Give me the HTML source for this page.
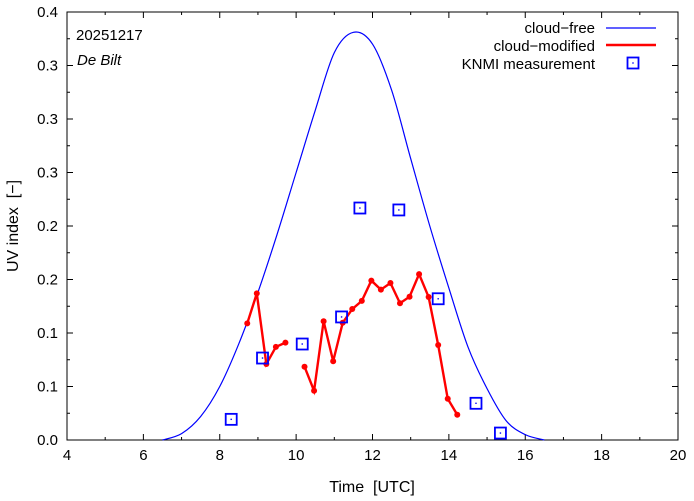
<!DOCTYPE html>
<html><head><meta charset="utf-8"><style>
body{margin:0;background:#fff}
svg{display:block;font-family:"Liberation Sans",sans-serif}
text{white-space:pre}
</style></head><body>
<svg id="chart" width="694" height="501" viewBox="0 0 694 501" xmlns="http://www.w3.org/2000/svg"></svg>
<script>
const xTicks=[4,6,8,10,12,14,16,18,20];
const yTicks=[0,0.05,0.1,0.15,0.2,0.25,0.3,0.35,0.4];
const yTickLabels=["0.0","0.1","0.1","0.2","0.2","0.3","0.3","0.3","0.4"];
const clearTimes=[6.5,7,7.5,8,8.5,9,9.5,10,10.5,11,11.5,12,12.5,13,13.5,14,14.5,15,15.5,16,16.5];
const clearVals=[0,0.006,0.022,0.05,0.09,0.138,0.192,0.25,0.308,0.362,0.381,0.37,0.327,0.263,0.2,0.142,0.087,0.048,0.018,0.005,0];
const cloudTimes1=[8.72,8.97,9.22,9.47,9.72];
const cloudVals1=[0.109,0.137,0.071,0.087,0.091];
const cloudTimes2=[10.22,10.47,10.72,10.97,11.22,11.47,11.72,11.97,12.22,12.47,12.72,12.97,13.22,13.47,13.72,13.97,14.22];
const cloudVals2=[0.0685,0.046,0.111,0.0736,0.1096,0.1224,0.13,0.149,0.1405,0.1467,0.1278,0.1339,0.155,0.1336,0.0888,0.0386,0.0236];
const measTimes=[8.3,9.12,10.16,11.19,11.67,12.69,13.72,14.71,15.35];
const measVals=[0.0193,0.0766,0.0897,0.115,0.2168,0.215,0.132,0.0343,0.0065];

const L=67,R=678,T=12,B=440;
const X=v=>L+(v-4)/16*(R-L);
const Y=v=>B-v/0.4*(B-T);
const svg=document.getElementById('chart');
const NS='http://www.w3.org/2000/svg';
function mk(tag,attrs,parent){const e=document.createElementNS(NS,tag);for(const k in attrs)e.setAttribute(k,attrs[k]);(parent||svg).appendChild(e);return e;}

xTicks.forEach((t,i)=>{
  const g=mk('line',{x1:X(t),x2:X(t),y1:B,y2:B-6,stroke:'#000'});
  
  
  mk('line',{x1:X(t),x2:X(t),y1:T,y2:T+6,stroke:'#000'});
  if(i<xTicks.length-1){
    mk('line',{x1:X(t+1),x2:X(t+1),y1:B,y2:B-3,stroke:'#000'});
    mk('line',{x1:X(t+1),x2:X(t+1),y1:T,y2:T+3,stroke:'#000'});
  }
  const tx=mk('text',{x:X(t),y:B+20,'text-anchor':'middle','font-size':15});
  tx.textContent=t;
  
  
});
yTicks.forEach((t,i)=>{
  mk('line',{x1:L,x2:L+6,y1:Y(t),y2:Y(t),stroke:'#000'});
  mk('line',{x1:R,x2:R-6,y1:Y(t),y2:Y(t),stroke:'#000'});
  if(i<yTicks.length-1){
    mk('line',{x1:L,x2:L+3,y1:Y(t+0.025),y2:Y(t+0.025),stroke:'#000'});
    mk('line',{x1:R,x2:R-3,y1:Y(t+0.025),y2:Y(t+0.025),stroke:'#000'});
  }
  const tx=mk('text',{x:L-9,y:Y(t)+5,'text-anchor':'end','font-size':15});
  tx.textContent=yTickLabels[i];
  
  
});
const frame=mk('rect',{x:L,y:T,width:R-L,height:B-T,fill:'none',stroke:'#000','stroke-width':1});



let pts=clearTimes.map((t,i)=>[X(t),Y(clearVals[i])]);
let d='M'+pts[0][0]+','+pts[0][1];
for(let i=0;i<pts.length-1;i++){
  const p0=pts[Math.max(0,i-1)],p1=pts[i],p2=pts[i+1],p3=pts[Math.min(pts.length-1,i+2)];
  d+=` C${p1[0]+(p2[0]-p0[0])/6},${p1[1]+(p2[1]-p0[1])/6} ${p2[0]-(p3[0]-p1[0])/6},${p2[1]-(p3[1]-p1[1])/6} ${p2[0]},${p2[1]}`;
}
const cf=mk('path',{d:d,fill:'none',stroke:'#0000ff','stroke-width':1.2});



[[cloudTimes1,cloudVals1],[cloudTimes2,cloudVals2]].forEach(([ts,vs])=>{
  const pl=mk('polyline',{points:ts.map((t,i)=>X(t)+','+Y(vs[i])).join(' '),fill:'none',stroke:'#ff0000','stroke-width':2.4});
  
  
  ts.forEach((t,i)=>{
    const c=mk('circle',{cx:X(t),cy:Y(vs[i]),r:3,fill:'#ff0000'});
    
    
  });
});
measTimes.forEach((t,i)=>{
  const r=mk('rect',{x:X(t)-5.5,y:Y(measVals[i])-5.5,width:11,height:11,fill:'none',stroke:'#0000ff','stroke-width':1.8});
  
  
  mk('rect',{x:X(t)-0.7,y:Y(measVals[i])-0.7,width:1.4,height:1.4,fill:'#0000ff'});
});
</script>
<svg style="position:absolute;left:0;top:0" width="694" height="501">
<text x="76" y="40" font-size="15" font-family="Liberation Sans,sans-serif">20251217</text>
<text x="77" y="65" font-size="15" font-style="italic" font-family="Liberation Sans,sans-serif">De Bilt</text>
<g font-size="15" font-family="Liberation Sans,sans-serif" text-anchor="end">
<text x="595" y="33">cloud−free</text>
<line x1="606" x2="656" y1="28" y2="28" stroke="#0000ff" stroke-width="1.2"/>
<text x="595" y="51">cloud−modified</text>
<line x1="606" x2="656" y1="45" y2="45" stroke="#ff0000" stroke-width="2.4"/>
<text x="595" y="69">KNMI measurement</text>
<rect x="627.5" y="57.5" width="11" height="11" fill="none" stroke="#0000ff" stroke-width="1.8"/>
<rect x="632.3" y="62.3" width="1.4" height="1.4" fill="#0000ff"/>
</g>
<text x="372" y="492" font-size="16" text-anchor="middle" font-family="Liberation Sans,sans-serif">Time  [UTC]</text>
<text x="18" y="226" font-size="16" text-anchor="middle" transform="rotate(-90 18 226)" font-family="Liberation Sans,sans-serif">UV index  [−]</text>
</svg>
</body></html>
